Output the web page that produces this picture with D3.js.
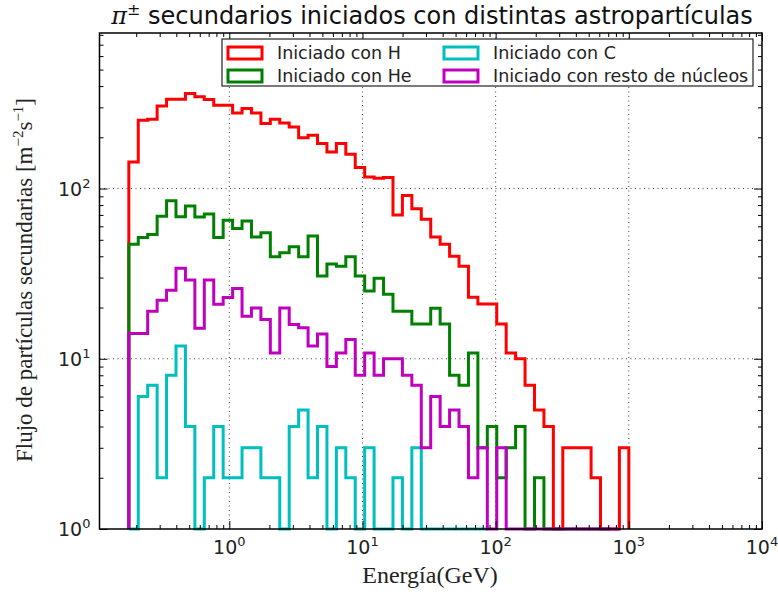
<!DOCTYPE html>
<html>
<head>
<meta charset="utf-8">
<script src="https://cdn.jsdelivr.net/npm/d3@7"></script>
<style>
    body { margin: 0; background: #fff; }
    svg { display: block; }
</style>
</head>
<body>
<svg id="grafico" width="778" height="592"></svg>
<script>
// Rango del histograma (bins logaritmicos)
const energiaMin = 0.176;
const energiaMax = 1000;
const numBins = 53;

// Flujo por bin para cada primario
const flujoH = [143, 252, 255, 305, 335, 335, 362, 346, 334, 309,
    309, 278, 295, 278, 241, 255, 243, 230, 199, 206,
    184, 164, 184, 159, 133, 117, 115, 116, 70, 91,
    76, 66, 52, 47, 40, 35, 23, 21, 21, 16,
    10.8, 10, 7, 5, 4, 0, 3, 3, 3, 2,
    0, 0, 3];
const flujoHe = [47, 51.6, 53.8, 68.8, 84.7, 68.2, 78.9, 68, 70.8, 51.6,
    65.2, 58.3, 64.4, 52, 55, 39.7, 41.9, 45.5, 39.7, 52.7,
    30.6, 36, 35, 39.7, 30.6, 25, 29.7, 23.9, 19, 19,
    16, 16, 19.8, 16, 8, 7, 10.8, 3, 4, 2,
    3, 4, 0, 2, 0, 0, 0, 0, 0, 0, 0];
const flujoC = [0, 6, 7, 2, 8, 11.9, 4, 0, 2, 4,
    2, 2, 3, 3, 2, 2, 0, 4, 5, 2,
    4, 0, 3, 2, 0, 3, 0, 0, 2, 0,
    3, 0, 0, 0, 0, 0, 0, 0];
const flujoResto = [14.1, 14.1, 19, 22.1, 25.3, 34, 29, 15.1, 29, 20.9,
    22.9, 25.9, 17.8, 19.9, 17, 10.8, 19.9, 15.9, 15.2, 11.9,
    14, 9, 10.8, 13, 8, 10.8, 8, 10, 10, 8,
    7, 3, 6, 4, 5, 4, 2, 3, 0, 3,
    0, 0, 0, 0, 0, 0, 0, 0, 0, 0, 0, 0];

const nombres = ['Iniciado con H', 'Iniciado con He', 'Iniciado con C', 'Iniciado con resto de núcleos'];
const colores = ['#ff0000', '#008000', '#00bfbf', '#bf00bf'];

// Ticks
const xTicksMayores = [1, 10, 100, 1000, 10000];
const xExponentes = ['0', '1', '2', '3', '4'];
const yTicksMayores = [1, 10, 100];
const yExponentes = ['0', '1', '2'];
const multiplosMenores = [2, 3, 4, 5, 6, 7, 8, 9];

function crearGrafico() {
    const margin = { top: 33, right: 16, bottom: 63, left: 99.5 };
    const width = 778 - margin.left - margin.right;
    const height = 592 - margin.top - margin.bottom;

    const svg = d3.select('#grafico');
    const g = svg.append('g')
        .attr('transform', `translate(${margin.left},${margin.top})`);

    const xScale = d3.scaleLog().domain([0.106, 1e4]).range([0, width]);
    const yScale = d3.scaleLog().domain([1, 820]).range([height, 0]);

    // Bordes de los bins
    const bordes = d3.range(numBins + 1).map(i =>
        energiaMin * Math.pow(energiaMax / energiaMin, i / numBins));

    // ticks menores (sin etiqueta)
    const xMenores = [];
    const yMenores = [];
    [-1, 0, 1, 2, 3].forEach(e => {
        multiplosMenores.forEach(m => {
            const v = m * Math.pow(10, e);
            if (v > 0.106 && v < 1e4) xMenores.push(v);
            if (v > 1 && v < 820) yMenores.push(v);
        });
    });

    // rejilla punteada
    const rejilla = g.append('g')
        .attr('stroke', '#444')
        .attr('stroke-width', 1)
        .attr('stroke-dasharray', '1,3.5');
    rejilla.selectAll('.gx')
        .data(xTicksMayores.slice(0, 4))
        .enter().append('line')
        .attr('x1', d => xScale(d)).attr('x2', d => xScale(d))
        .attr('y1', 0).attr('y2', height);
    rejilla.selectAll('.gy')
        .data(yTicksMayores.slice(1))
        .enter().append('line')
        .attr('x1', 0).attr('x2', width)
        .attr('y1', d => yScale(d)).attr('y2', d => yScale(d));

    // Histogramas tipo "step"
    const flujos = [flujoH, flujoHe, flujoC, flujoResto];
    const linea = d3.line();
    flujos.forEach(function (valores, s) {
        const yv = v => (v > 0 ? yScale(v) : height);
        const puntos = [[xScale(bordes[0]), height]];
        valores.forEach(function (v, i) {
            puntos.push([xScale(bordes[i]), yv(v)]);
            puntos.push([xScale(bordes[i + 1]), yv(v)]);
        });
        puntos.push([xScale(bordes[valores.length]), height]);
        g.append('path')
            .attr('d', linea(puntos))
            .attr('fill', 'none')
            .attr('stroke', colores[s])
            .attr('stroke-width', 3)
            .attr('stroke-linejoin', 'miter');
    });

    // Ejes: ticks hacia dentro en los cuatro lados
    function ticks(axisGen, valores, largo, transform) {
        const a = g.append('g')
            .attr('transform', transform)
            .call(axisGen.tickValues(valores).tickSizeInner(largo).tickSizeOuter(0).tickFormat(''));
        a.select('.domain').remove();
        a.selectAll('line').attr('stroke', '#000').attr('stroke-width', 1);
    }
    ticks(d3.axisBottom(xScale), xTicksMayores, -8, `translate(0,${height})`);
    ticks(d3.axisBottom(xScale), xMenores, -4, `translate(0,${height})`);
    ticks(d3.axisTop(xScale), xTicksMayores, -8, 'translate(0,0)');
    ticks(d3.axisTop(xScale), xMenores, -4, 'translate(0,0)');
    ticks(d3.axisLeft(yScale), yTicksMayores, -8, 'translate(0,0)');
    ticks(d3.axisLeft(yScale), yMenores, -4, 'translate(0,0)');
    ticks(d3.axisRight(yScale), yTicksMayores, -8, `translate(${width},0)`);
    ticks(d3.axisRight(yScale), yMenores, -4, `translate(${width},0)`);

    // marco
    g.append('rect')
        .attr('width', width).attr('height', height)
        .attr('fill', 'none').attr('stroke', '#000').attr('stroke-width', 1.5);

    // etiquetas de ticks 10^n
    const xLab = g.append('g').attr('font-family', 'DejaVu Sans').attr('font-size', 19).attr('fill', '#222');
    xTicksMayores.forEach(function (t, i) {
        const txt = xLab.append('text')
            .attr('x', xScale(t)).attr('y', height + 25)
            .attr('text-anchor', 'middle');
        txt.append('tspan').text('10');
        txt.append('tspan').attr('dy', -8).attr('font-size', 13).text(xExponentes[i]);
    });
    yTicksMayores.forEach(function (t, i) {
        const txt = xLab.append('text')
            .attr('x', -9).attr('y', yScale(t) + 7)
            .attr('text-anchor', 'end');
        txt.append('tspan').text('10');
        txt.append('tspan').attr('dy', -8).attr('font-size', 13).text(yExponentes[i]);
    });

    // titulo
    const titulo = svg.append('text')
        .attr('x', 432).attr('y', 24)
        .attr('text-anchor', 'middle')
        .attr('font-family', 'DejaVu Sans').attr('font-size', 24).attr('fill', '#111');
    titulo.append('tspan').attr('font-family', 'DejaVu Serif').attr('font-style', 'italic').text('π');
    titulo.append('tspan').attr('dy', -9).attr('font-size', 16).text('±');
    titulo.append('tspan').attr('dy', 9).text(' secundarios iniciados con distintas astropartículas');

    // nombres de los ejes
    svg.append('text')
        .attr('x', 430).attr('y', 583)
        .attr('text-anchor', 'middle')
        .attr('font-family', 'Liberation Serif').attr('font-size', 24).attr('fill', '#222')
        .text('Energía(GeV)');

    const yTit = svg.append('text')
        .attr('transform', 'translate(32,280) rotate(-90)')
        .attr('text-anchor', 'middle')
        .attr('font-family', 'Liberation Serif').attr('font-size', 23).attr('fill', '#222');
    yTit.append('tspan').text('Flujo de partículas secundarias [m');
    yTit.append('tspan').attr('dy', -9).attr('font-size', 15).text('−2');
    yTit.append('tspan').attr('dy', 9).text('s');
    yTit.append('tspan').attr('dy', -9).attr('font-size', 15).text('−1');
    yTit.append('tspan').attr('dy', 9).text(']');

    // leyenda
    const leyenda = svg.append('g');
    leyenda.append('rect')
        .attr('x', 222).attr('y', 39).attr('width', 531).attr('height', 47)
        .attr('fill', '#fff').attr('stroke', '#222').attr('stroke-width', 1.2);
    const colX = [228, 444];
    const filaY = [53, 76];
    nombres.forEach(function (nombre, i) {
        const c = Math.floor(i / 2);
        const f = i % 2;
        leyenda.append('rect')
            .attr('x', colX[c]).attr('y', filaY[f] - 6)
            .attr('width', 34).attr('height', 12)
            .attr('fill', '#fff').attr('stroke', colores[i]).attr('stroke-width', 3);
        leyenda.append('text')
            .attr('x', colX[c] + 49).attr('y', filaY[f])
            .attr('dy', '0.36em')
            .attr('font-family', 'DejaVu Sans').attr('font-size', 17.5).attr('fill', '#222')
            .text(nombre);
    });
}

crearGrafico();
</script>
</body>
</html>
